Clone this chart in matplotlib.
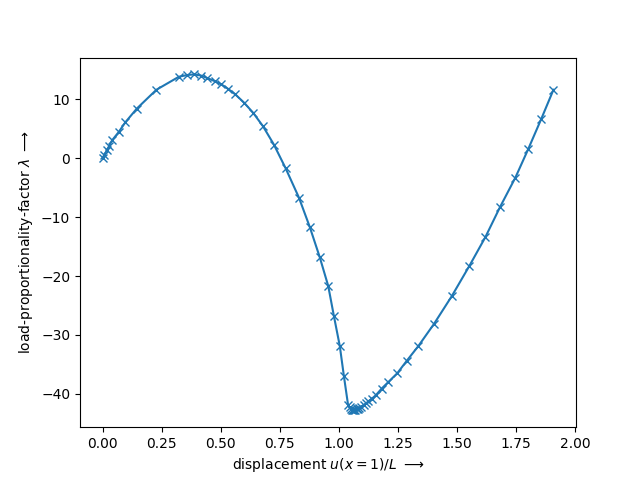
import matplotlib
matplotlib.use("Agg")
import matplotlib.pyplot as plt

u = [0.0, 0.008, 0.018, 0.027, 0.041, 0.068, 0.097, 0.145, 0.228, 0.323, 0.359,
     0.387, 0.417, 0.442, 0.475, 0.503, 0.531, 0.562, 0.599, 0.637, 0.679,
     0.725, 0.775, 0.831, 0.877, 0.919, 0.955, 0.979, 1.004, 1.021, 1.039,
     1.045, 1.050, 1.055, 1.060, 1.065, 1.070, 1.075, 1.080, 1.087, 1.095,
     1.105, 1.115, 1.125, 1.140, 1.157, 1.181, 1.209, 1.247, 1.287, 1.336,
     1.403, 1.478, 1.552, 1.620, 1.682, 1.747, 1.802, 1.857, 1.908]
lam = [0.0, 0.6, 1.3, 2.0, 3.05, 4.4, 6.1, 8.4, 11.6, 13.8, 14.1,
       14.2, 14.0, 13.6, 13.05, 12.5, 11.75, 10.8, 9.4, 7.7, 5.4,
       2.3, -1.75, -6.7, -11.7, -16.8, -21.7, -26.8, -31.9, -36.9, -41.9,
       -42.3, -42.6, -42.7, -42.8, -42.8, -42.7, -42.6, -42.5, -42.35, -42.15,
       -41.9, -41.6, -41.25, -40.8, -40.2, -39.1, -38.0, -36.5, -34.4, -31.9,
       -28.1, -23.4, -18.3, -13.4, -8.3, -3.3, 1.6, 6.7, 11.6]

fig, ax = plt.subplots(figsize=(6.4, 4.8), dpi=100)
ax.plot(u, lam, 'x-')
ax.set_xlabel(r'displacement $u(x=1)/L$ $\longrightarrow$')
ax.set_ylabel(r'load-proportionality-factor $\lambda$ $\longrightarrow$')
fig.savefig('out.png')
